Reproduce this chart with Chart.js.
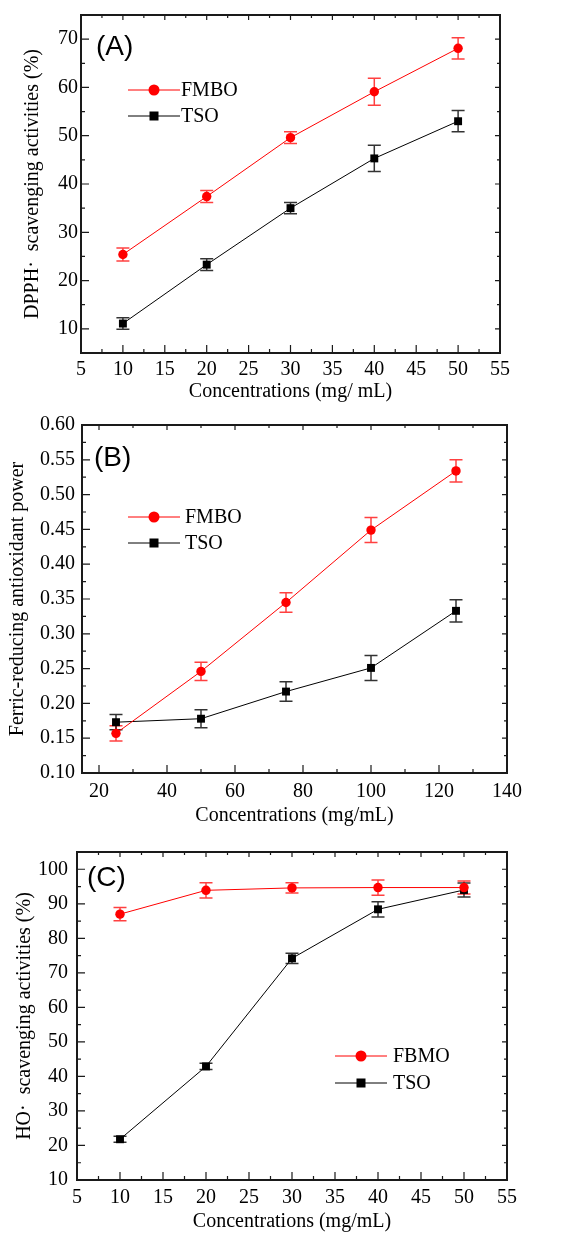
<!DOCTYPE html>
<html>
<head>
<meta charset="utf-8">
<script src="https://cdn.jsdelivr.net/npm/chart.js@4.4.0/dist/chart.umd.min.js"></script>
<style>
  body { margin: 0; background: #fff; }
  .panel { position: absolute; left: 0; width: 577px; }
</style>
</head>
<body>
<div class="panel" style="top:0;height:405px"><canvas id="chartA"></canvas></div>
<div class="panel" style="top:405px;height:425px"><canvas id="chartB"></canvas></div>
<div class="panel" style="top:830px;height:404px"><canvas id="chartC"></canvas></div>
<script>
// (A) DPPH
const concA = [10, 20, 30, 40, 50];
const fmboA = [25.4, 37.4, 49.6, 59.1, 68.1];
const fmboAErr = [1.35, 1.25, 1.2, 2.8, 2.2];
const tsoA = [11.1, 23.3, 35.0, 45.3, 53.0];
const tsoAErr = [1.2, 1.2, 1.15, 2.7, 2.2];
const xTicksA = [5, 10, 15, 20, 25, 30, 35, 40, 45, 50, 55];
const yTicksA = [10, 20, 30, 40, 50, 60, 70];

// (B) FRAP
const concB = [25, 50, 75, 100, 125];
const fmboB = [0.157, 0.246, 0.345, 0.449, 0.534];
const fmboBErr = [0.011, 0.013, 0.014, 0.018, 0.016];
const tsoB = [0.173, 0.178, 0.217, 0.251, 0.333];
const tsoBErr = [0.011, 0.013, 0.014, 0.018, 0.016];
const xTicksB = [20, 40, 60, 80, 100, 120, 140];
const yTicksB = [0.10, 0.15, 0.20, 0.25, 0.30, 0.35, 0.40, 0.45, 0.50, 0.55, 0.60];

// (C) HO.
const concC = [10, 20, 30, 40, 50];
const fbmoC = [87.0, 93.9, 94.6, 94.7, 94.7];
const fbmoCErr = [1.9, 2.2, 1.5, 2.2, 1.9];
const tsoC = [21.8, 42.9, 74.2, 88.4, 94.0];
const tsoCErr = [0.9, 0.9, 1.5, 2.2, 2.0];
const xTicksC = [5, 10, 15, 20, 25, 30, 35, 40, 45, 50, 55];
const yTicksC = [10, 20, 30, 40, 50, 60, 70, 80, 90, 100];

const SERIF = '"Liberation Serif", "Times New Roman", serif';

function pts(xs, ys) {
  return xs.map((x, i) => ({ x: x, y: ys[i] }));
}

// error bars drawn with the chart's own scales
const errorBars = {
  id: "errorBars",
  beforeDatasetsDraw(chart) {
    const ctx = chart.ctx;
    const xs = chart.scales.x, ys = chart.scales.y;
    chart.data.datasets.forEach((ds) => {
      if (!ds.errors) return;
      ctx.save();
      ctx.strokeStyle = ds.errColor;
      ctx.lineWidth = 1.5;
      ds.data.forEach((p, i) => {
        const x = xs.getPixelForValue(p.x);
        const y1 = ys.getPixelForValue(p.y + ds.errors[i]);
        const y2 = ys.getPixelForValue(p.y - ds.errors[i]);
        ctx.beginPath();
        ctx.moveTo(x, y1); ctx.lineTo(x, y2);
        ctx.moveTo(x - 6.5, y1); ctx.lineTo(x + 6.5, y1);
        ctx.moveTo(x - 6.5, y2); ctx.lineTo(x + 6.5, y2);
        ctx.stroke();
      });
      ctx.restore();
    });
  }
};

// box frame with inward major / minor ticks on all four sides
const frame = {
  id: "frame",
  beforeDatasetsDraw(chart) {
    const { ctx, chartArea: a } = chart;
    const xs = chart.scales.x, ys = chart.scales.y;
    const minorOf = (scale) => {
      const t = scale.ticks.map((k) => k.value);
      const step = t[1] - t[0];
      const out = [];
      for (let v = t[0] - step / 2; v <= scale.max + 1e-9; v += step) {
        if (v >= scale.min - 1e-9) out.push(v);
      }
      return out;
    };
    ctx.save();
    ctx.strokeStyle = "#1a1a1a";
    ctx.lineWidth = 1.2;
    ctx.beginPath();
    xs.ticks.forEach((t) => {
      const x = xs.getPixelForValue(t.value);
      ctx.moveTo(x, a.bottom); ctx.lineTo(x, a.bottom - 8);
      ctx.moveTo(x, a.top); ctx.lineTo(x, a.top + 5);
    });
    minorOf(xs).forEach((v) => {
      const x = xs.getPixelForValue(v);
      ctx.moveTo(x, a.bottom); ctx.lineTo(x, a.bottom - 4);
      ctx.moveTo(x, a.top); ctx.lineTo(x, a.top + 3);
    });
    ys.ticks.forEach((t) => {
      const y = ys.getPixelForValue(t.value);
      ctx.moveTo(a.left, y); ctx.lineTo(a.left + 8, y);
      ctx.moveTo(a.right, y); ctx.lineTo(a.right - 5, y);
    });
    minorOf(ys).forEach((v) => {
      const y = ys.getPixelForValue(v);
      ctx.moveTo(a.left, y); ctx.lineTo(a.left + 4, y);
      ctx.moveTo(a.right, y); ctx.lineTo(a.right - 3, y);
    });
    ctx.stroke();
    ctx.lineWidth = 2;
    ctx.strokeRect(a.left, a.top, a.right - a.left, a.bottom - a.top);
    ctx.restore();
  }
};

// in-plot legend and panel tag
const panelLegend = {
  id: "panelLegend",
  afterDraw(chart, args, opts) {
    const ctx = chart.ctx;
    ctx.save();
    chart.data.datasets.forEach((ds, i) => {
      const y = opts.y + i * opts.dy;
      const cx = opts.x + opts.len / 2;
      ctx.strokeStyle = ds.borderColor;
      ctx.lineWidth = 1;
      ctx.beginPath();
      ctx.moveTo(opts.x, y); ctx.lineTo(opts.x + opts.len, y);
      ctx.stroke();
      ctx.fillStyle = ds.backgroundColor;
      if (ds.pointStyle === "rect") {
        ctx.fillRect(cx - 4.5, y - 4.5, 9, 9);
      } else {
        ctx.beginPath();
        ctx.arc(cx, y, 5.5, 0, Math.PI * 2);
        ctx.fill();
      }
      ctx.fillStyle = "#000";
      ctx.font = "20px " + SERIF;
      ctx.textBaseline = "middle";
      ctx.fillText(ds.label, opts.x + opts.len + opts.gap, y + 1);
    });
    ctx.font = '28px "Liberation Sans", Arial, sans-serif';
    ctx.textBaseline = "alphabetic";
    ctx.fillStyle = "#000";
    ctx.fillText(opts.tag, opts.tagX, opts.tagY);
    ctx.restore();
  }
};

function makeChart(id, c) {
  const config = {
    type: "line",
    data: {
      datasets: [
        {
          label: c.names[0],
          data: pts(c.conc, c.s1),
          errors: c.e1,
          errColor: "rgba(255,0,0,0.75)",
          borderColor: "#ff0000",
          backgroundColor: "#ff0000",
          borderWidth: 1,
          pointStyle: "circle",
          pointRadius: 4.7,
          pointBorderWidth: 0,
          tension: 0,
        },
        {
          label: c.names[1],
          data: pts(c.conc, c.s2),
          errors: c.e2,
          errColor: "rgba(0,0,0,0.8)",
          borderColor: "#000000",
          backgroundColor: "#000000",
          borderWidth: 1,
          pointStyle: "rect",
          pointRadius: 5.6,
          pointBorderWidth: 0,
          tension: 0,
        },
      ],
    },
    options: {
      responsive: true,
      maintainAspectRatio: false,
      animation: false,
      layout: { padding: c.pad },
      plugins: {
        legend: { display: false },
        tooltip: { enabled: false },
        panelLegend: c.legend,
      },
      scales: {
        x: {
          type: "linear",
          min: c.xMin, max: c.xMax,
          grid: { display: false, drawTicks: false },
          border: { display: false },
          afterBuildTicks: (s) => { s.ticks = c.xTicks.map((v) => ({ value: v })); },
          ticks: {
            padding: c.xPad,
            color: "#000", font: { family: SERIF, size: 20 },
          },
          title: {
            display: true, text: c.xTitle,
            color: "#000", font: { family: SERIF, size: 20 },
            padding: { top: 0, bottom: c.xTitlePad },
          },
          afterFit: (s) => { s.height = c.xH; },
        },
        y: {
          min: c.yMin, max: c.yMax,
          grid: { display: false, drawTicks: false },
          border: { display: false },
          afterBuildTicks: (s) => { s.ticks = c.yTicks.map((v) => ({ value: v })); },
          ticks: {
            padding: c.yPad,
            color: "#000", font: { family: SERIF, size: 20 },
            callback: c.yFmt,
          },
          title: {
            display: true, text: c.yTitle,
            color: "#000", font: { family: SERIF, size: 20 },
            padding: { top: c.yTitlePad, bottom: 0 },
          },
          afterFit: (s) => { s.width = c.yW; },
        },
      },
    },
    plugins: [frame, errorBars, panelLegend],
  };
  return new Chart(document.getElementById(id), config);
}

makeChart("chartA", {
  conc: concA, s1: fmboA, e1: fmboAErr, s2: tsoA, e2: tsoAErr,
  names: ["FMBO", "TSO"],
  xMin: 5, xMax: 55, yMin: 5, yMax: 75,
  xTicks: xTicksA, yTicks: yTicksA,
  yFmt: (v) => v,
  xTitle: "Concentrations (mg/ mL)",
  yTitle: "DPPH\u00B7  scavenging activities (%)",
  pad: { top: 14, right: 77, left: 0, bottom: 0 },
  xH: 52, yW: 81, xPad: 5, yPad: 3, xTitlePad: 1, yTitlePad: 21,
  legend: { x: 128, y: 90, dy: 26, len: 52, gap: 1, tag: "(A)", tagX: 96, tagY: 55 },
});

makeChart("chartB", {
  conc: concB, s1: fmboB, e1: fmboBErr, s2: tsoB, e2: tsoBErr,
  names: ["FMBO", "TSO"],
  xMin: 15, xMax: 140, yMin: 0.10, yMax: 0.60,
  xTicks: xTicksB, yTicks: yTicksB,
  yFmt: (v) => v.toFixed(2),
  xTitle: "Concentrations (mg/mL)",
  yTitle: "Ferric-reducing antioxidant power",
  pad: { top: 20, right: 70, left: 0, bottom: 0 },
  xH: 57, yW: 82, xPad: 7, yPad: 7, xTitlePad: 2, yTitlePad: 6,
  legend: { x: 128, y: 112, dy: 26, len: 52, gap: 5, tag: "(B)", tagX: 94, tagY: 61 },
});

makeChart("chartC", {
  conc: concC, s1: fbmoC, e1: fbmoCErr, s2: tsoC, e2: tsoCErr,
  names: ["FBMO", "TSO"],
  xMin: 5, xMax: 55, yMin: 10, yMax: 105,
  xTicks: xTicksC, yTicks: yTicksC,
  yFmt: (v) => v,
  xTitle: "Concentrations (mg/mL)",
  yTitle: "HO\u00B7  scavenging activities (%)",
  pad: { top: 22, right: 70, left: 0, bottom: 0 },
  xH: 54, yW: 77, xPad: 6, yPad: 9, xTitlePad: 0, yTitlePad: 13,
  legend: { x: 335, y: 226, dy: 27, len: 52, gap: 6, tag: "(C)", tagX: 87, tagY: 56 },
});
</script>
</body>
</html>
